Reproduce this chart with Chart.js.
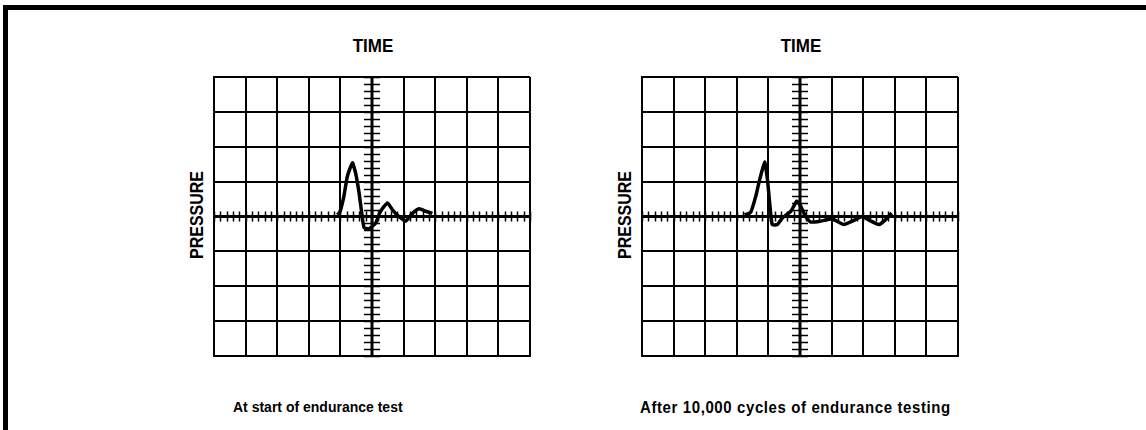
<!DOCTYPE html>
<html>
<head>
<meta charset="utf-8">
<script src="https://cdn.jsdelivr.net/npm/chart.js@4.4.1/dist/chart.umd.min.js"></script>
<style>
  body { margin: 0; background: #fff; }
  #page { position: relative; width: 1146px; height: 430px; overflow: hidden; background: #fff;
          font-family: "Liberation Sans", Arial, sans-serif; font-weight: bold; color: #000; }
  .frameTop { position: absolute; left: 3px; top: 5px; width: 1143px; height: 5px; background: #000; }
  .frameLeft { position: absolute; left: 3px; top: 5px; width: 5px; height: 425px; background: #000; }
  .plot { position: absolute; width: 320px; height: 283px; }
  .time { position: absolute; top: 36px; font-size: 17px; transform: translateX(-50%) scaleY(1.1); }
  .pressure { position: absolute; font-size: 16px; transform: translate(-50%, -50%) rotate(-90deg) scaleY(1.1); white-space: nowrap; }
  .caption { position: absolute; top: 399px; font-size: 14px; white-space: nowrap; transform: scaleY(1.08); }
</style>
</head>
<body>
<div id="page">
  <div class="frameTop"></div>
  <div class="frameLeft"></div>

  <div class="time" style="left:373px">TIME</div>
  <div class="time" style="left:801px">TIME</div>
  <div class="pressure" style="left:197px; top:215px">PRESSURE</div>
  <div class="pressure" style="left:626px; top:215px">PRESSURE</div>

  <div class="plot" style="left:212px; top:75px"><canvas id="leftChart"></canvas></div>
  <div class="plot" style="left:640px; top:75px"><canvas id="rightChart"></canvas></div>

  <div class="caption" style="left:233px">At start of endurance test</div>
  <div class="caption" style="left:640px; font-size:15px; letter-spacing:0.6px">After 10,000 cycles of endurance testing</div>
</div>

<script>
// Trace at start of endurance test (time in divisions, pressure in divisions)
const leftTime = [-1.10, -1.02, -0.89, -0.78, -0.62, -0.52, -0.41, -0.31, -0.25, -0.09, 0.12, 0.27, 0.49, 0.64, 0.85, 1.07, 1.28, 1.49, 1.70, 1.91];
const leftPressure = [0.05, 0.12, 0.58, 1.15, 1.54, 1.25, 0.68, 0.0, -0.32, -0.35, -0.18, 0.15, 0.39, 0.2, 0.0, -0.13, 0.09, 0.22, 0.15, 0.09];

// Trace after 10,000 cycles
const rightTime = [-1.75, -1.56, -1.40, -1.30, -1.12, -1.03, -0.96, -0.88, -0.72, -0.56, -0.29, -0.10, 0.02, 0.18, 0.34, 0.66, 1.02, 1.39, 1.66, 1.97, 2.24, 2.50, 2.71, 2.90];
const rightPressure = [0.05, 0.12, 0.58, 0.97, 1.56, 1.06, 0.39, -0.23, -0.23, -0.04, 0.15, 0.44, 0.3, 0.0, -0.16, -0.13, -0.07, -0.23, -0.13, 0.0, -0.13, -0.23, -0.09, 0.1];

// Graticule: 10 x 8 divisions, 5 sub-divisions on the centre axes
const timeRange = [-5, 5];
const pressureRange = [-4, 4];
const subDivisions = 5;

// Plugin qui dessine les axes centraux avec les petites graduations
const centreAxes = {
    id: 'centreAxes',
    beforeDatasetsDraw(chart) {
        const { ctx, chartArea, scales } = chart;
        const x0 = scales.x.getPixelForValue(0);
        const y0 = scales.y.getPixelForValue(0);
        ctx.save();
        ctx.strokeStyle = '#000';

        // axe horizontal
        ctx.lineWidth = 3;
        ctx.beginPath();
        ctx.moveTo(chartArea.left, y0);
        ctx.lineTo(chartArea.right, y0);
        ctx.stroke();
        // axe vertical
        ctx.beginPath();
        ctx.moveTo(x0, chartArea.top);
        ctx.lineTo(x0, chartArea.bottom);
        ctx.stroke();

        ctx.lineWidth = 1.5;
        ctx.beginPath();
        for (let v = timeRange[0]; v <= timeRange[1] + 1e-9; v += 1 / subDivisions) {
            const px = Math.round(scales.x.getPixelForValue(v)) + 0.5;
            ctx.moveTo(px, y0 - 5);
            ctx.lineTo(px, y0 + 5);
        }
        for (let v = pressureRange[0]; v <= pressureRange[1] + 1e-9; v += 1 / subDivisions) {
            const py = Math.round(scales.y.getPixelForValue(v)) + 0.5;
            ctx.moveTo(x0 - 8, py);
            ctx.lineTo(x0 + 8, py);
        }
        ctx.stroke();
        ctx.restore();
    }
};

function makeScope(canvasId, times, pressures) {
    const points = times.map((t, i) => ({ x: t, y: pressures[i] }));
    return new Chart(document.getElementById(canvasId), {
        type: 'scatter',
        data: {
            datasets: [{
                data: points,
                showLine: true,
                borderColor: '#000',
                borderWidth: 3.5,
                pointRadius: 0,
                tension: 0.15,
                fill: false
            }]
        },
        options: {
            responsive: false,
            animation: false,
            layout: { padding: 2 },
            plugins: { legend: { display: false }, tooltip: { enabled: false } },
            scales: {
                x: {
                    type: 'linear', min: timeRange[0], max: timeRange[1],
                    ticks: { display: false, stepSize: 1 },
                    grid: { color: '#000', lineWidth: 2, drawTicks: false },
                    border: { display: true, color: '#000', width: 2 }
                },
                y: {
                    type: 'linear', min: pressureRange[0], max: pressureRange[1],
                    ticks: { display: false, stepSize: 1 },
                    grid: { color: '#000', lineWidth: 2, drawTicks: false },
                    border: { display: true, color: '#000', width: 2 }
                }
            }
        },
        plugins: [centreAxes]
    });
}

document.getElementById('leftChart').width = 320;
document.getElementById('leftChart').height = 283;
document.getElementById('rightChart').width = 320;
document.getElementById('rightChart').height = 283;
makeScope('leftChart', leftTime, leftPressure);
makeScope('rightChart', rightTime, rightPressure);
</script>
</body>
</html>
